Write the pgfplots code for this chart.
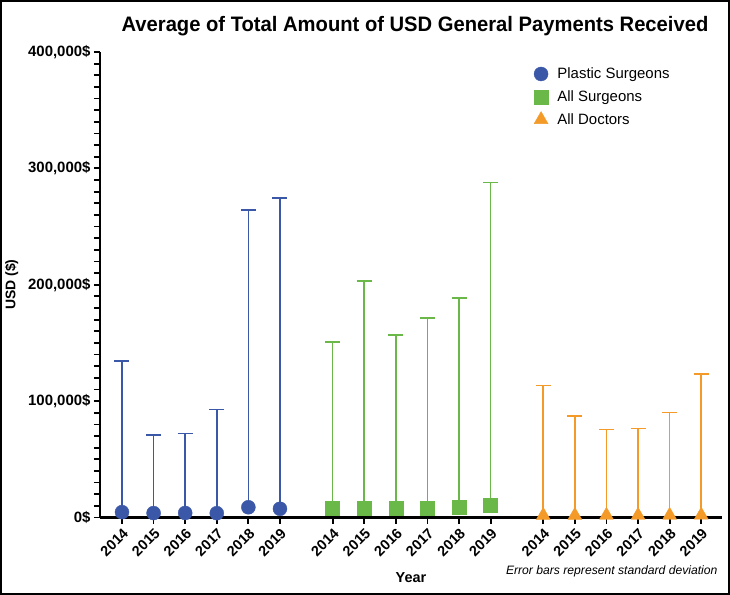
\documentclass[border=0pt]{standalone}
\usepackage{pgfplots}
\pgfplotsset{compat=1.18}
\usepackage{fontspec}
\setmainfont{Liberation Sans}
\newfontfamily\titlefont[FakeStretch=0.965]{Liberation Sans Bold}
\definecolor{cblue}{RGB}{59,87,167}
\definecolor{cgreen}{RGB}{106,184,72}
\definecolor{corange}{RGB}{243,154,40}
\begin{document}
\begin{tikzpicture}
\begin{axis}[
  scale only axis, width=622bp, height=465.5bp,
  at={(0,0)}, anchor=south west,
  xmin=-0.696, xmax=18.99, ymin=0, ymax=400000,
  clip=false,
  axis lines=left, axis line style={-, line width=2.2bp, black},
  tick align=outside,
  major tick length=6bp, minor tick length=6bp,
  tick style={line width=1.8bp, black},
  ytick={0,100000,200000,300000,400000},
  yticklabels={{0\$},{100,000\$},{200,000\$},{300,000\$},{400,000\$}},
  minor y tick num=9,
  scaled y ticks=false,
  xtick={0,1,2,3,4,5,6.667,7.667,8.667,9.667,10.667,11.667,13.333,14.333,15.333,16.333,17.333,18.333},
  xticklabels={2014,2015,2016,2017,2018,2019,2014,2015,2016,2017,2018,2019,2014,2015,2016,2017,2018,2019},
  x tick label style={rotate=45, anchor=north east, font=\bfseries\fontsize{14.5}{16}\selectfont, inner sep=2.5bp},
  y tick label style={font=\bfseries\fontsize{15}{18}\selectfont},
  xlabel={Year},
  xlabel style={font=\bfseries\fontsize{14.5}{17}\selectfont, yshift=-8bp},
  ylabel={USD (\$)},
  ylabel style={font=\bfseries\fontsize{14}{17}\selectfont, yshift=3bp},
  title={Average of Total Amount of USD General Payments Received},
  title style={font=\titlefont\fontsize{21}{24}\selectfont, yshift=7bp, xshift=4bp},
  legend style={at={(0.69,0.975)}, anchor=north west, draw=none, fill=none,
    font=\fontsize{15}{18}\selectfont, row sep=6.5bp},
  legend cell align=left,
  legend image code/.code={\draw[mark repeat=2,mark phase=2,#1] plot coordinates {(0cm,0cm) (0.3cm,0cm) (0.6cm,0cm)}; \path (0cm,0cm) (0.8cm,0cm);},
  error bars/error bar style={line width=1.6bp},
  error bars/error mark options={rotate=90, mark size=7.5bp, line width=1.6bp},
]
\addplot[only marks, color=cblue, mark=*, mark size=7bp,
  mark options={fill=cblue, draw=cblue},
  error bars/.cd, y dir=plus, y explicit]
  table[x=x, y=y, y error=e] {
x y e
0 4600 129900
1 3800 67300
2 3900 68400
3 3700 89100
4 8800 255200
5 7500 267000
};
\addlegendentry{Plastic Surgeons}
\addplot[only marks, color=cgreen, mark=square*, mark size=7bp,
  mark options={fill=cgreen, draw=cgreen},
  error bars/.cd, y dir=plus, y explicit]
  table[x=x, y=y, y error=e] {
x y e
6.667 7700 143100
7.667 7800 195200
8.667 8300 148700
9.667 8000 163400
10.667 8800 180000
11.667 10300 277400
};
\addlegendentry{All Surgeons}
\addplot[only marks, color=corange, mark=triangle*, mark size=8bp,
  mark options={fill=corange, draw=corange},
  error bars/.cd, y dir=plus, y explicit]
  table[x=x, y=y, y error=e] {
x y e
13.333 1800 111600
14.333 1800 85600
15.333 1900 73800
16.333 1900 74600
17.333 1900 88300
18.333 2000 121100
};
\addlegendentry{All Doctors}
\end{axis}
\node[anchor=east, font=\itshape\fontsize{12.2}{14}\selectfont] at (621bp,-53.5bp) {Error bars represent standard deviation};
\draw[line width=2bp] (-99bp,-76.5bp) rectangle (629bp,516.5bp);
\pgfresetboundingbox
\path (-100bp,-77.5bp) rectangle (630bp,517.5bp);
\end{tikzpicture}
\end{document}
